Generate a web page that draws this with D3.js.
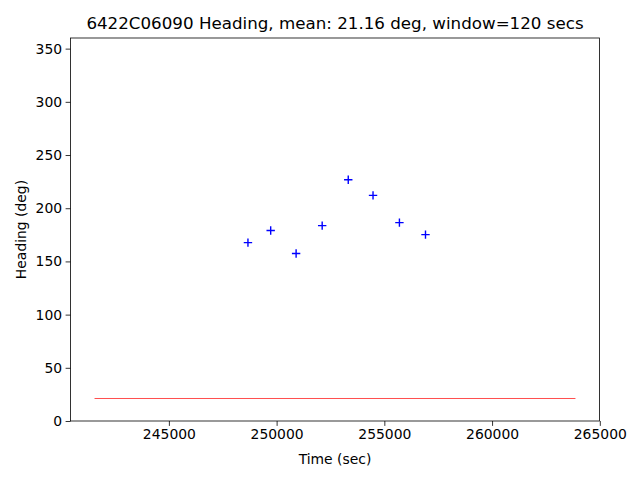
<!DOCTYPE html>
<html><head><meta charset="utf-8">
<script src="https://cdn.jsdelivr.net/npm/d3@7"></script>
<style>body{margin:0;background:#fff}svg{display:block}text{font-family:"DejaVu Sans",sans-serif}</style>
</head><body><svg id="c" width="640" height="480"></svg>
<script>
const titleText = "6422C06090 Heading, mean: 21.16 deg, window=120 secs";
const times = [248670, 249725, 250905, 252115, 253325, 254475, 255700, 256910];
const headings = [167.7, 179.0, 157.4, 183.6, 226.8, 212.1, 186.5, 175.2];
const meanValue = 21.16;
const meanSpan = [241550, 263870];
const xTicks = [245000, 250000, 255000, 260000, 265000];
const yTicks = [0, 50, 100, 150, 200, 250, 300, 350];

const svg = d3.select("#c");
const L = 70.5, R = 599.5, T = 38, B = 421;
const pad = 0.05 * (meanSpan[1] - meanSpan[0]);
const x = d3.scaleLinear().domain([meanSpan[0] - pad, meanSpan[1] + pad]).range([L, R]);
const y = d3.scaleLinear().domain([0, 360]).range([B, T]);

svg.append("rect").attr("x", 0).attr("y", 0).attr("width", 640).attr("height", 480).attr("fill", "#fff");

// mean line
svg.append("line")
  .attr("x1", x(meanSpan[0])).attr("x2", x(meanSpan[1]))
  .attr("y1", y(meanValue)).attr("y2", y(meanValue))
  .attr("stroke", "red").attr("stroke-width", 0.7);

// markers
const s = 4.2;
const g = svg.append("g");
times.forEach((t, i) => {
  const cx = x(t), cy = y(headings[i]);
  g.append("path")
    .attr("d", `M${cx - s},${cy}H${cx + s}M${cx},${cy - s}V${cy + s}`)
    .attr("stroke", "blue").attr("stroke-width", 1.4).attr("fill", "none");
});

// axes
const xa = svg.append("g").attr("transform", `translate(0,${B})`)
  .call(d3.axisBottom(x).tickValues(xTicks).tickFormat(d3.format("d")).tickSize(4.9).tickPadding(3.5));
const ya = svg.append("g").attr("transform", `translate(${L},0)`)
  .call(d3.axisLeft(y).tickValues(yTicks).tickFormat(d3.format("d")).tickSize(4.9).tickPadding(3.5));
[xa, ya].forEach(a => {
  a.select(".domain").remove();
  a.selectAll("line").attr("stroke", "#000").attr("stroke-width", 0.8);
  a.selectAll("text").attr("font-size", "13.9px").attr("fill", "#000").attr("font-family", "DejaVu Sans");
});

// frame
svg.append("rect").attr("x", L).attr("y", T).attr("width", R - L).attr("height", B - T)
  .attr("fill", "none").attr("stroke", "#000").attr("stroke-width", 0.8);

// labels
svg.append("text").attr("x", (L + R) / 2).attr("y", 29).attr("text-anchor", "middle")
  .attr("font-size", "16.7px").text(titleText);
svg.append("text").attr("x", (L + R) / 2).attr("y", 464).attr("text-anchor", "middle")
  .attr("font-size", "13.9px").text("Time (sec)");
svg.append("text").attr("transform", `translate(26,${(T + B) / 2}) rotate(-90)`).attr("text-anchor", "middle")
  .attr("font-size", "13.9px").text("Heading (deg)");
</script></body></html>
